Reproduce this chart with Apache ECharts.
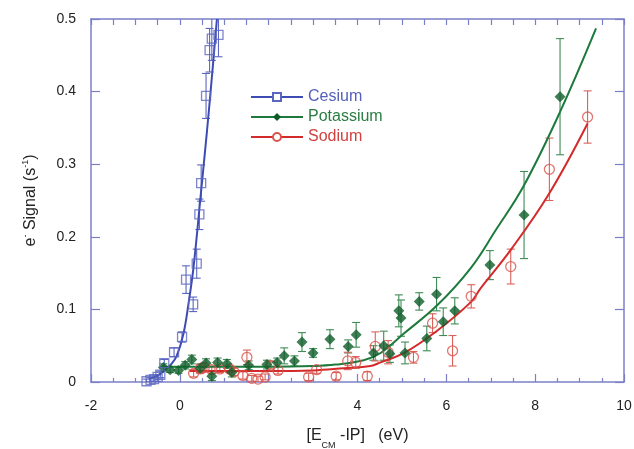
<!DOCTYPE html>
<html>
<head>
<meta charset="utf-8">
<script src="https://cdn.jsdelivr.net/npm/echarts@6/dist/echarts.min.js"></script>
<style>
html, body { margin: 0; padding: 0; background: #fff; }
#chart { width: 634px; height: 449px; }
</style>
</head>
<body>
<div id="chart"></div>
<script>
// Measured electron signal: [E_CM - IP (eV), signal (1/s), error bar half-height]
const cesium = [
  [-0.75, 0.001, 0.003], [-0.66, 0.003, 0.003], [-0.58, 0.004, 0.003], [-0.50, 0.007, 0.003],
  [-0.44, 0.010, 0.004], [-0.35, 0.026, 0.005], [-0.13, 0.041, 0.006], [0.05, 0.062, 0.007],
  [0.14, 0.141, 0.019], [0.30, 0.107, 0.010], [0.38, 0.163, 0.020], [0.44, 0.231, 0.021],
  [0.48, 0.274, 0.025], [0.59, 0.394, 0.031], [0.67, 0.457, 0.030], [0.72, 0.473, 0.030],
  [0.87, 0.478, 0.030]
];
const potassium = [
  [-0.37, 0.020, 0.005], [-0.22, 0.017, 0.004], [-0.03, 0.016, 0.004], [0.12, 0.023, 0.005],
  [0.27, 0.031, 0.006], [0.46, 0.019, 0.006], [0.59, 0.026, 0.006], [0.72, 0.008, 0.006],
  [0.85, 0.027, 0.006], [1.06, 0.025, 0.006], [1.17, 0.013, 0.006], [1.55, 0.023, 0.006],
  [1.96, 0.024, 0.006], [2.19, 0.027, 0.006], [2.35, 0.036, 0.011], [2.58, 0.029, 0.007],
  [2.75, 0.055, 0.013], [3.00, 0.040, 0.006], [3.38, 0.059, 0.013], [3.79, 0.049, 0.009],
  [3.97, 0.065, 0.017], [4.36, 0.040, 0.010], [4.59, 0.050, 0.020], [4.73, 0.039, 0.012],
  [4.93, 0.098, 0.022], [4.98, 0.088, 0.025], [5.07, 0.040, 0.015], [5.39, 0.111, 0.012],
  [5.56, 0.060, 0.017], [5.78, 0.121, 0.023], [5.93, 0.083, 0.019], [6.19, 0.098, 0.018],
  [6.98, 0.161, 0.020], [7.75, 0.230, 0.060], [8.56, 0.393, 0.080]
];
const sodium = [
  [0.31, 0.012, 0.005], [0.46, 0.018, 0.006], [0.55, 0.020, 0.006], [0.72, 0.017, 0.005],
  [0.90, 0.018, 0.005], [1.12, 0.018, 0.005], [1.22, 0.014, 0.005], [1.42, 0.009, 0.005],
  [1.51, 0.034, 0.010], [1.62, 0.005, 0.004], [1.76, 0.004, 0.004], [1.92, 0.007, 0.004],
  [2.05, 0.023, 0.005], [2.21, 0.016, 0.005], [2.90, 0.007, 0.005], [3.08, 0.017, 0.005],
  [3.52, 0.008, 0.005], [3.78, 0.029, 0.012], [3.96, 0.027, 0.008], [4.22, 0.008, 0.006],
  [4.40, 0.049, 0.020], [4.69, 0.041, 0.016], [5.26, 0.034, 0.008], [5.69, 0.081, 0.013],
  [6.14, 0.043, 0.021], [6.56, 0.118, 0.016], [7.45, 0.159, 0.024], [8.32, 0.293, 0.043],
  [9.18, 0.365, 0.036]
];

// Fitted curves through each data set
const cesiumFit = [
  [-0.70, 0.004], [-0.50, 0.009], [-0.35, 0.016], [-0.20, 0.024], [-0.07, 0.036], [0.08, 0.066],
  [0.20, 0.110], [0.31, 0.159], [0.46, 0.251], [0.61, 0.345], [0.70, 0.405], [0.835, 0.500]
];
const potassiumFit = [
  [-0.40, 0.021], [0.00, 0.021], [1.00, 0.021], [2.00, 0.021], [3.00, 0.022], [3.50, 0.024],
  [4.14, 0.030], [4.52, 0.040], [5.05, 0.067], [5.80, 0.106], [6.55, 0.157], [7.11, 0.209],
  [7.75, 0.271], [8.56, 0.372], [9.37, 0.487]
];
const sodiumFit = [
  [0.22, 0.015], [1.00, 0.015], [2.00, 0.015], [3.00, 0.016], [3.69, 0.019], [4.29, 0.022],
  [4.52, 0.027], [5.05, 0.040], [5.80, 0.071], [6.55, 0.110], [6.77, 0.129], [7.45, 0.182],
  [8.32, 0.260], [9.18, 0.356]
];

const xTicks = [-2, 0, 2, 4, 6, 8, 10];
const yTicks = [0, 0.1, 0.2, 0.3, 0.4, 0.5];

const FRAME = '#7b80c6';
const FONT = '"Liberation Sans", Arial, sans-serif';
const CS = { line: '#3d4cb3', mark: '#5b66c0', err: '#5b66c0', text: '#5560b8' };
const K  = { line: '#1d7a3c', mark: '#0f5c2b', err: '#3f8b56', text: '#2a7d43' };
const NA = { line: '#d42a2a', mark: '#d9544c', err: '#d9625a', text: '#d24040' };

function errorBars(color) {
  return function (params, api) {
    const x = api.value(0), y = api.value(1), e = api.value(2);
    const hi = api.coord([x, y + e]);
    const lo = api.coord([x, y - e]);
    const w = 4;
    const st = { stroke: color, lineWidth: 1.1 };
    return {
      type: 'group',
      children: [
        { type: 'line', shape: { x1: hi[0], y1: hi[1], x2: lo[0], y2: lo[1] }, style: st },
        { type: 'line', shape: { x1: hi[0] - w, y1: hi[1], x2: hi[0] + w, y2: hi[1] }, style: st },
        { type: 'line', shape: { x1: lo[0] - w, y1: lo[1], x2: lo[0] + w, y2: lo[1] }, style: st }
      ]
    };
  };
}

function fitSeries(name, data, c, symbol, itemStyle) {
  return {
    name: name, type: 'line', data: data, smooth: 0.4, showSymbol: false,
    symbol: symbol, symbolSize: 9, itemStyle: itemStyle,
    lineStyle: { color: c.line, width: 2 }, z: 3, silent: true
  };
}

const xMin = xTicks[0], xMax = xTicks[xTicks.length - 1], xStep = xTicks[1] - xTicks[0];
const yMin = yTicks[0], yMax = yTicks[yTicks.length - 1], yStep = yTicks[1] - yTicks[0];

const chart = echarts.init(document.getElementById('chart'), null, { renderer: 'canvas' });

const frameLine = { show: true, onZero: false, lineStyle: { color: FRAME, width: 1.5 } };
const tickStyle = { color: FRAME, width: 1.2 };

chart.setOption({
  animation: false,
  backgroundColor: '#fff',
  grid: { left: 91, right: 10, top: 19, bottom: 67, containLabel: false, outerBoundsMode: 'none' },
  legend: {
    orient: 'vertical', left: 250, top: 89, padding: 0,
    itemWidth: 52, itemHeight: 10, itemGap: 4,
    textStyle: { fontFamily: FONT, fontSize: 16 },
    data: [
      { name: 'Cesium', textStyle: { color: CS.text } },
      { name: 'Potassium', textStyle: { color: K.text } },
      { name: 'Sodium', textStyle: { color: NA.text } }
    ]
  },
  xAxis: [
    {
      type: 'value', min: xMin, max: xMax, interval: xStep, position: 'bottom',
      axisLine: frameLine,
      axisTick: { inside: true, length: 8, lineStyle: tickStyle },
      minorTick: { show: true, splitNumber: 4, length: 4, lineStyle: tickStyle },
      axisLabel: { color: '#222', fontSize: 14, fontFamily: FONT, margin: 17 },
      splitLine: { show: false },
      name: '{t|[E}{sub|CM}{t| -IP]   (eV)}',
      nameLocation: 'middle', nameGap: 46,
      nameTextStyle: {
        rich: {
          t: { fontSize: 16, fontFamily: FONT, color: '#222', lineHeight: 22, verticalAlign: 'top' },
          sub: { fontSize: 9, fontFamily: FONT, color: '#222', lineHeight: 22, verticalAlign: 'bottom' }
        }
      }
    },
    {
      type: 'value', min: xMin, max: xMax, interval: xStep, position: 'top',
      axisLine: frameLine,
      axisTick: { inside: true, length: 6, lineStyle: tickStyle },
      minorTick: { show: true, splitNumber: 4, length: 6, lineStyle: tickStyle },
      axisLabel: { show: false },
      splitLine: { show: false }
    }
  ],
  yAxis: [
    {
      type: 'value', min: yMin, max: yMax, interval: yStep, position: 'left',
      axisLine: frameLine,
      axisTick: { show: true, inside: true, length: 9, lineStyle: tickStyle },
      axisLabel: { color: '#222', fontSize: 14, fontFamily: FONT, margin: 15 },
      splitLine: { show: false },
      name: '{t|e}{sup|-}{t| Signal (s}{sup|-1}{t|)}',
      nameLocation: 'middle', nameGap: 52, nameRotate: 90,
      nameTextStyle: {
        rich: {
          t: { fontSize: 16, fontFamily: FONT, color: '#222', lineHeight: 18, verticalAlign: 'bottom' },
          sup: { fontSize: 9, fontFamily: FONT, color: '#222', lineHeight: 18, verticalAlign: 'top' }
        }
      }
    },
    {
      type: 'value', min: yMin, max: yMax, interval: yStep, position: 'right',
      axisLine: frameLine,
      axisTick: { show: true, inside: true, length: 9, lineStyle: tickStyle },
      axisLabel: { show: false },
      splitLine: { show: false }
    }
  ],
  series: [
    fitSeries('Cesium', cesiumFit, CS, 'rect', { color: '#fff', borderColor: CS.mark, borderWidth: 1.3 }),
    fitSeries('Potassium', potassiumFit, K, 'diamond', { color: K.mark }),
    fitSeries('Sodium', sodiumFit, NA, 'circle', { color: '#fff', borderColor: NA.mark, borderWidth: 1.3 }),

    { name: 'Cesium', type: 'custom', renderItem: errorBars(CS.err), data: cesium, clip: true, z: 2, silent: true },
    { name: 'Potassium', type: 'custom', renderItem: errorBars(K.err), data: potassium, clip: true, z: 2, silent: true },
    { name: 'Sodium', type: 'custom', renderItem: errorBars(NA.err), data: sodium, clip: true, z: 2, silent: true },

    {
      name: 'Sodium', type: 'scatter', data: sodium.map(d => [d[0], d[1]]),
      symbol: 'circle', symbolSize: 10, z: 4, silent: true,
      itemStyle: { color: 'transparent', borderColor: NA.mark, borderWidth: 1.3 }
    },
    {
      name: 'Potassium', type: 'scatter', data: potassium.map(d => [d[0], d[1]]),
      symbol: 'diamond', symbolSize: 11, z: 5, silent: true,
      itemStyle: { color: K.mark }
    },
    {
      name: 'Cesium', type: 'scatter', data: cesium.map(d => [d[0], d[1]]),
      symbol: 'rect', symbolSize: 9, z: 6, silent: true,
      itemStyle: { color: 'transparent', borderColor: CS.mark, borderWidth: 1.3 }
    }
  ]
});
</script>
</body>
</html>
